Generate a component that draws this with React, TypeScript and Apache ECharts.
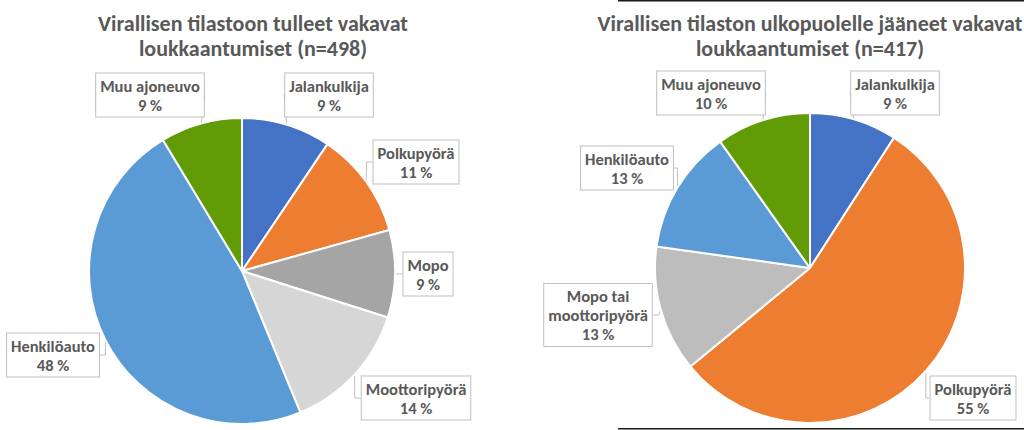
import React, { useEffect, useRef } from "react";
import * as echarts from "echarts";

const leftTitle = "Virallisen tilastoon tulleet vakavat\nloukkaantumiset (n=498)";
const rightTitle = "Virallisen tilaston ulkopuolelle jääneet vakavat\nloukkaantumiset (n=417)";

const leftNames = ["Jalankulkija", "Polkupyörä", "Mopo", "Moottoripyörä", "Henkilöauto", "Muu ajoneuvo"];
const leftValues = [47, 56, 46, 69, 237, 43];
const leftColors = ["#4472C4", "#ED7D31", "#A5A5A5", "#D6D6D6", "#5B9BD5", "#619B05"];

const rightNames = ["Jalankulkija", "Polkupyörä", "Mopo tai moottoripyörä", "Henkilöauto", "Muu ajoneuvo"];
const rightValues = [38, 229, 55, 54, 41];
const rightColors = ["#4472C4", "#ED7D31", "#BDBDBD", "#5B9BD5", "#619B05"];

// label box centre positions (layout only)
const leftLabelPos = [[329, 95], [416, 162], [428, 274], [416, 398], [53, 355], [150, 95]];
const rightLabelPos = [[895, 93], [973, 398], [598, 315], [627, 168], [711, 93]];

const FONT = "Carlito, Calibri, Lato, sans-serif";
const TEXT = "#595959";

function displayName(n: string) {
  return n === "Mopo tai moottoripyörä" ? "Mopo tai\nmoottoripyörä" : n;
}

function makeSeries(names: string[], values: number[], colors: string[], center: [number, number], radius: number, pos: number[][]) {
  return {
    type: "pie",
    center,
    radius,
    startAngle: 90,
    clockwise: true,
    percentPrecision: 0,
    avoidLabelOverlap: false,
    data: names.map((n, i) => ({ name: n, value: values[i], itemStyle: { color: colors[i] } })),
    itemStyle: { borderColor: "#ffffff", borderWidth: 2 },
    label: {
      show: true,
      position: "outside",
      formatter: (p: any) => `${displayName(p.name)}\n${p.percent} %`,
      color: TEXT,
      fontFamily: FONT,
      fontWeight: "bold",
      fontSize: 16.5,
      lineHeight: 19,
      align: "center",
      backgroundColor: "#ffffff",
      borderColor: "#BFBFBF",
      borderWidth: 1,
      padding: [3, 4, 2, 4],
    },
    labelLine: {
      show: true,
      length: 6,
      length2: 6,
      lineStyle: { color: "#BFBFBF", width: 1 },
    },
    labelLayout: (params: any) => {
      const p = pos[params.dataIndex];
      return { x: p[0], y: p[1], align: "center", verticalAlign: "middle" };
    },
    emphasis: { disabled: true },
  };
}

export default function App() {
  const ref = useRef<HTMLDivElement>(null);
  useEffect(() => {
    document.body.style.margin = "0";
    const chart = echarts.init(ref.current!, null, { renderer: "svg" });
    const titleStyle = { color: TEXT, fontFamily: FONT, fontWeight: "bold", fontSize: 22, lineHeight: 25 };
    chart.setOption({
      animation: false,
      backgroundColor: "#ffffff",
      title: [
        { text: leftTitle, left: 248, top: 6, textAlign: "center", textStyle: titleStyle },
        { text: rightTitle, left: 805, top: 6, textAlign: "center", textStyle: titleStyle },
      ],
      graphic: [
        { type: "line", shape: { x1: 618, y1: 0.75, x2: 1024, y2: 0.75 }, style: { stroke: "#1a1a1a", lineWidth: 1.5 } },
        { type: "line", shape: { x1: 618, y1: 428.75, x2: 1024, y2: 428.75 }, style: { stroke: "#1a1a1a", lineWidth: 1.5 } },
      ],
      series: [
        makeSeries(leftNames, leftValues, leftColors, [242, 271], 153, leftLabelPos),
        makeSeries(rightNames, rightValues, rightColors, [810, 268], 155, rightLabelPos),
      ],
    });
    return () => chart.dispose();
  }, []);
  return <div ref={ref} style={{ width: 1024, height: 430 }} />;
}
